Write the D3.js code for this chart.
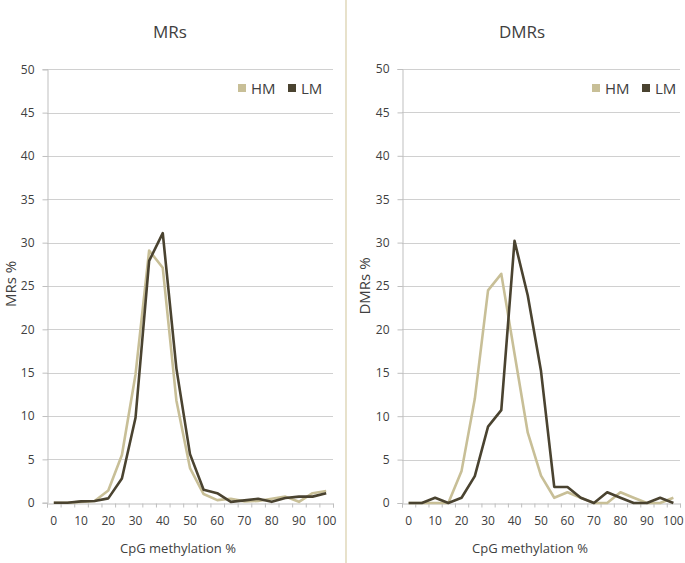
<!DOCTYPE html>
<html>
<head>
<meta charset="utf-8">
<script src="https://cdn.jsdelivr.net/npm/d3@7"></script>
<style>
  html, body { margin: 0; padding: 0; background: #fff; }
  svg { display: block; }
  text { font-family: "Open Sans", "Liberation Sans", sans-serif; fill: #404040; }
</style>
</head>
<body>
<svg id="chart" width="685" height="563"></svg>
<script>
// ---- data ----
const categories = [0,5,10,15,20,25,30,35,40,45,50,55,60,65,70,75,80,85,90,95,100];
const yTicks = [0,5,10,15,20,25,30,35,40,45,50];
const xTickLabels = [0,10,20,30,40,50,60,70,80,90,100];
const seriesNames = ["HM", "LM"];

const mrsHM = [0,0,0.1,0.2,1.4,5.5,14.8,29.1,27.1,11.8,4.0,1.0,0.3,0.45,0.15,0.2,0.45,0.7,0.1,1.1,1.35];
const mrsLM = [0,0,0.15,0.2,0.5,2.8,9.8,27.9,31.1,15.5,5.6,1.5,1.1,0.1,0.27,0.45,0.1,0.55,0.7,0.7,1.1];

const dmrsHM = [0,0,0,0,3.7,12.0,24.5,26.4,17.2,8.1,3.15,0.6,1.23,0.6,0,0,1.23,0.6,0,0,0.6];
const dmrsLM = [0,0,0.6,0,0.6,3.1,8.8,10.7,30.2,23.9,15.2,1.85,1.85,0.6,0,1.23,0.6,0,0,0.6,0];

const colors = { HM: "#c8bf97", LM: "#4a4330" };

const svg = d3.select("#chart");

// separator
svg.append("line").attr("x1", 346).attr("x2", 346).attr("y1", 0).attr("y2", 563)
  .attr("stroke", "#d8cea8").attr("stroke-width", 1.2);

function drawChart(o) {
  const g = svg.append("g");
  const x = d3.scaleBand().domain(categories).range([o.x0, o.x1]).paddingInner(0).paddingOuter(0);
  const cx = d => x(d) + x.bandwidth() / 2;
  const y = d3.scaleLinear().domain([0, 50]).range([o.yb, o.yt]);

  // gridlines
  g.selectAll(".grid").data(yTicks.filter(t => t > 0)).join("line")
    .attr("x1", o.x0).attr("x2", o.x1)
    .attr("y1", d => Math.round(y(d)) + 0.5).attr("y2", d => Math.round(y(d)) + 0.5)
    .attr("stroke", "#d0d0d0").attr("stroke-width", 1);

  // y axis
  const yAxis = d3.axisLeft(y).tickValues(yTicks).tickSize(5).tickPadding(8);
  const ya = g.append("g").attr("transform", `translate(${Math.round(o.x0)+0.5},0)`).call(yAxis);
  ya.select(".domain").attr("stroke", "#bfbfbf");
  ya.selectAll(".tick line").attr("stroke", "#bfbfbf");
  ya.selectAll(".tick text").style("font-size", "12px").attr("fill", "#404040");

  // x axis: boundary ticks via linear index scale
  const xi = d3.scaleLinear().domain([0, categories.length]).range([o.x0, o.x1]);
  const bounds = d3.range(0, categories.length + 1);
  const xa = g.append("g").attr("transform", `translate(0,${Math.round(o.yb)+0.5})`)
    .call(d3.axisBottom(xi).tickValues(bounds).tickSize(4).tickFormat(""));
  xa.select(".domain").attr("stroke", "#bfbfbf");
  xa.selectAll(".tick line").attr("stroke", "#bfbfbf");

  // x tick labels (every other category)
  g.selectAll(".xl").data(xTickLabels).join("text")
    .attr("x", d => cx(d)).attr("y", o.yb + 22)
    .attr("text-anchor", "middle").style("font-size", "12px")
    .text(d => d);

  // lines
  const line = d3.line().x((d, i) => cx(categories[i])).y(d => y(d));
  [["HM", o.hm], ["LM", o.lm]].forEach(([name, vals]) => {
    g.append("path").datum(vals).attr("d", line)
      .attr("fill", "none").attr("stroke", colors[name])
      .attr("stroke-width", 2.6).attr("stroke-linejoin", "round");
  });

  // title
  g.append("text").attr("x", o.titleX).attr("y", 38).attr("text-anchor", "middle")
    .style("font-size", "17px").text(o.title);

  // y title
  g.append("text").attr("transform", `translate(${o.yTitleX},${o.yTitleY}) rotate(-90)`)
    .attr("text-anchor", "middle").style("font-size", "15px").text(o.yTitle);

  // x title
  g.append("text").attr("x", o.xTitleX).attr("y", 553).attr("text-anchor", "middle")
    .style("font-size", "13px").text("CpG methylation %");

  // legend
  o.legend.forEach((lx, i) => {
    const name = seriesNames[i];
    g.append("rect").attr("x", lx).attr("y", 84).attr("width", 8).attr("height", 8)
      .attr("fill", colors[name]);
    g.append("text").attr("x", lx + 13).attr("y", 93.5).style("font-size", "15px").text(name);
  });
}

drawChart({ x0: 47, x1: 333, yt: 69.3, yb: 502.7, hm: mrsHM, lm: mrsLM,
  title: "MRs", titleX: 170, yTitle: "MRs %", yTitleX: 16, yTitleY: 284, xTitleX: 178,
  legend: [238, 288] });
drawChart({ x0: 402, x1: 680, yt: 69, yb: 503, hm: dmrsHM, lm: dmrsLM,
  title: "DMRs", titleX: 522, yTitle: "DMRs %", yTitleX: 370, yTitleY: 286, xTitleX: 530,
  legend: [592, 642] });
</script>
</body>
</html>
